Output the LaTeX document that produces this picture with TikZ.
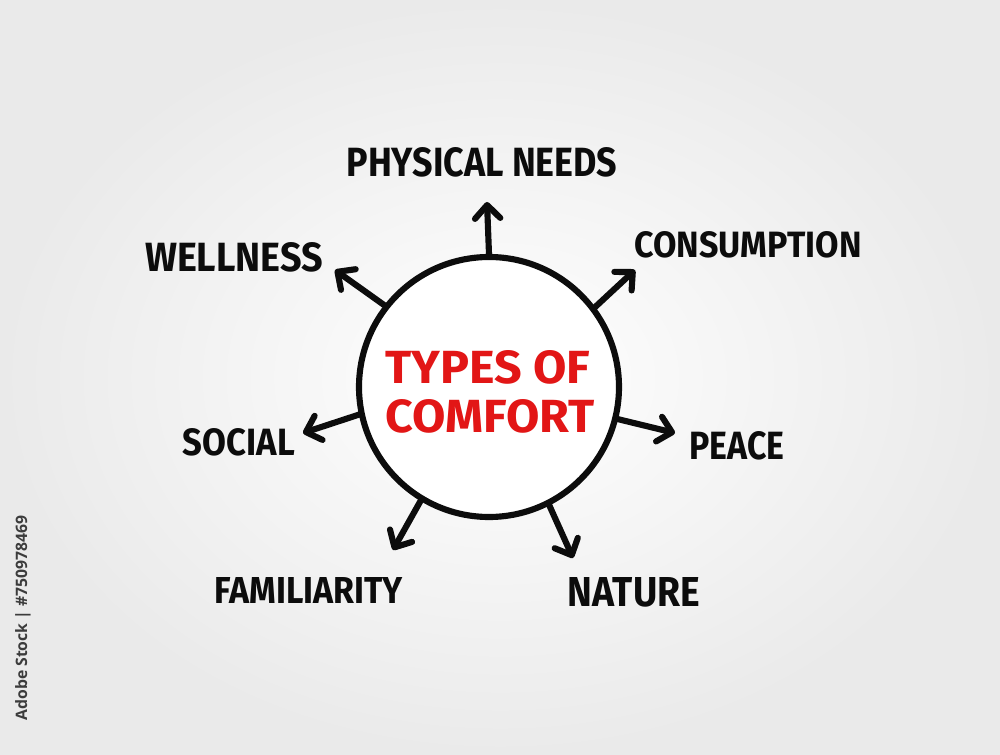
\documentclass[tikz,border=0pt]{standalone}
\usepackage{fontspec}
\setmainfont{Fira Sans}
\newfontfamily\wmfont{Open Sans}
\usetikzlibrary{arrows.meta}
\newlength\pxu
\setlength\pxu{0.75pt}
\newcommand{\fit}[3]{\resizebox{#1\pxu}{#2\pxu}{\bfseries #3}}
\definecolor{titlered}{RGB}{226,22,22}
\definecolor{ink}{RGB}{12,12,12}
\begin{document}
\begin{tikzpicture}[x=0.75pt,y=-0.75pt,
  lbl/.style={inner sep=0pt,text=ink},
  spoke/.style={draw=ink,line width=4.6pt,line cap=round,
    -{Straight Barb[length=10pt,width=19pt,round]}},
  hub/.style={circle,draw=ink,line width=4.6pt,minimum size=195pt,inner sep=0pt,fill=white}]
\useasboundingbox (0,0) rectangle (1000,755);
\shade[inner color=white,outer color={rgb,255:red,234;green,234;blue,234}] (0,0) rectangle (1000,755);
% hub
\node[hub] (c) at (489,387) {};
\node[inner sep=0pt,text=titlered] (t1) at (488,367) {\fit{205}{33}{TYPES OF}};
\node[inner sep=0pt,text=titlered] (t2) at (490,416) {\fit{209}{33}{COMFORT}};
% tips
\coordinate (pt) at (487,202);
\coordinate (ct) at (635,270);
\coordinate (wt) at (335,270);
\coordinate (st) at (303,433);
\coordinate (et) at (675,433);
\coordinate (ft) at (393,550);
\coordinate (nt) at (573,558);
\draw[spoke] (c.90) -- (pt);
\draw[spoke] (c.37) -- (ct);
\draw[spoke] (c.142) -- (wt);
\draw[spoke] (c.192) -- (st);
\draw[spoke] (c.-14) -- (et);
\draw[spoke] (c.239) -- (ft);
\draw[spoke] (c.-63) -- (nt);
% labels
\node[lbl] (phys) at (482,162) {\fit{271}{29}{PHYSICAL NEEDS}};
\node[lbl] (cons) at (748,245) {\fit{227}{26}{CONSUMPTION}};
\node[lbl] (well) at (234,257) {\fit{178}{29}{WELLNESS}};
\node[lbl] (soc) at (239,442) {\fit{112}{27}{SOCIAL}};
\node[lbl] (peace) at (737,446) {\fit{95}{28}{PEACE}};
\node[lbl] (fam) at (309,590) {\fit{188}{26}{FAMILIARITY}};
\node[lbl] (nat) at (634,592) {\fit{132}{29}{NATURE}};
% stock id
\node[inner sep=0pt,rotate=90,text={rgb,255:red,60;green,60;blue,60}] (id) at (23,618) {\resizebox{205\pxu}{!}{\wmfont\bfseries Adobe Stock | \#750978469}};
\end{tikzpicture}
\end{document}
